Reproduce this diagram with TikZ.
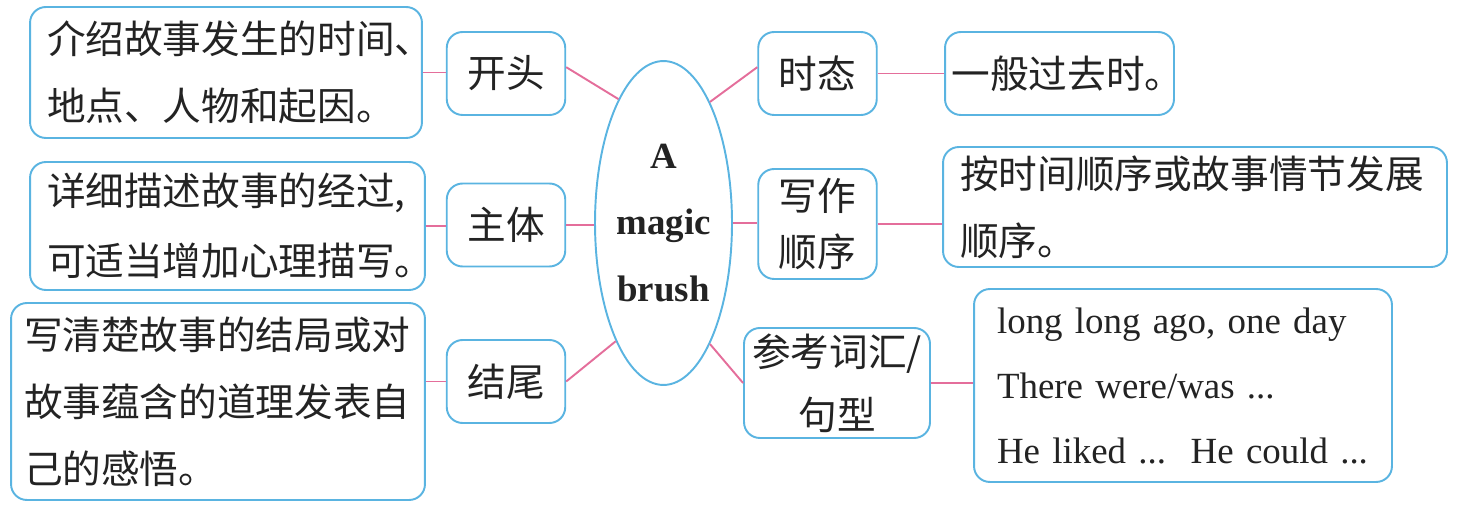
\documentclass[tikz,border=0pt]{standalone}
\usepackage{fontspec}
\setmainfont{Liberation Serif}
\newfontfamily\cjk{Noto Sans CJK SC}
\usetikzlibrary{shapes.geometric}
\definecolor{BoxBlue}{RGB}{90,180,225}
\definecolor{LinkPink}{RGB}{228,110,155}
\definecolor{InkGray}{RGB}{35,35,35}
\tikzset{
  part/.style={draw=BoxBlue,line width=1.1pt,rounded corners=9pt,fill=white,
    text=InkGray,align=center,inner sep=0pt,minimum width=2.37cm,
    minimum height=1.66cm,font=\cjk\fontsize{22}{32}\selectfont},
  desc/.style={draw=BoxBlue,line width=1.1pt,rounded corners=9pt,fill=white,
    text=InkGray,align=left,inner xsep=0.3cm,inner ysep=0pt,
    font=\cjk\fontsize{22}{38}\selectfont},
  hub/.style={ellipse,draw=BoxBlue,line width=1.1pt,inner sep=0pt,
    minimum width=2.74cm,minimum height=6.48cm,align=center,text=InkGray,
    font=\bfseries\fontsize{21}{38}\selectfont},
  link/.style={draw=LinkPink,line width=1.1pt},
}

\begin{document}
\begin{tikzpicture}[x=0.02cm,y=-0.02cm]
  \useasboundingbox (0,0) rectangle (1457,506);

  % centre
  \node[hub] (brush) at (663.5,223) {A\\magic\\brush};

  % left branches
  \node[part] (kaitou) at (506,73.5) {开头};
  \node[part] (zhuti) at (506,225) {主体};
  \node[part] (jiewei) at (506,381.5) {结尾};

  \node[desc,text width=7.16cm,inner xsep=0.34cm,minimum height=2.62cm] (start) at (226,72.5)
    {介绍故事发生的时间、\\地点、人物和起因。};
  \node[desc,text width=7.22cm,inner xsep=0.34cm,minimum height=2.56cm,
    font=\cjk\fontsize{22}{40}\selectfont] (body) at (227.5,226)
    {详细描述故事的经过,\\可适当增加心理描写。};
  \node[desc,text width=7.76cm,minimum height=3.94cm,inner xsep=0.26cm] (ending) at (218,401.5)
    {写清楚故事的结局或对\\故事蕴含的道理发表自\\己的感悟。};

  % right branches
  \node[part] (shitai) at (817.5,73.5) {时态};
  \node[part,font=\cjk\fontsize{22}{31.5}\selectfont,minimum height=2.2cm] (xiezuo) at (817.5,224) {写作\\顺序};
  \node[part,font=\cjk\fontsize{22}{36}\selectfont,minimum width=3.72cm,minimum height=2.2cm] (cankao) at (837,383)
    {参考词汇/\\句型};

  \node[desc,text width=4.32cm,inner xsep=0.13cm,minimum height=1.66cm] (tense) at (1059.5,73.5)
    {一般过去时。};
  \node[desc,text width=9.4cm,minimum height=2.4cm,inner xsep=0.34cm] (order) at (1195,207)
    {按时间顺序或故事情节发展\\顺序。};
  \node[desc,text width=7.44cm,minimum height=3.86cm,inner xsep=0.46cm,
    font=\fontsize{21}{37}\selectfont] (words) at (1183,385.5)
    {long long ago, one day\\There were/was ...\\He liked ...\ \ He could ...};

  % connectors
  \draw[link] (start.east) -- (start.east -| kaitou.west);
  \draw[link] (body.east) -- (body.east -| zhuti.west);
  \draw[link] (jiewei.west -| ending.east) -- (jiewei.west);
  \draw[link] (kaitou.6) -- (brush.110.6);
  \draw[link] (zhuti.east) -- (zhuti.east -| brush.west);
  \draw[link] (jiewei.east) -- (brush.248.7);
  \draw[link] (brush.69.3) -- (shitai.174);
  \draw[link] (brush.east) -- (brush.east -| xiezuo.west);
  \draw[link] (brush.291) -- (cankao.west);
  \draw[link] (shitai.east) -- (tense.west);
  \draw[link] (xiezuo.east) -- (xiezuo.east -| order.west);
  \draw[link] (cankao.east) -- (cankao.east -| words.west);
\end{tikzpicture}
\end{document}
